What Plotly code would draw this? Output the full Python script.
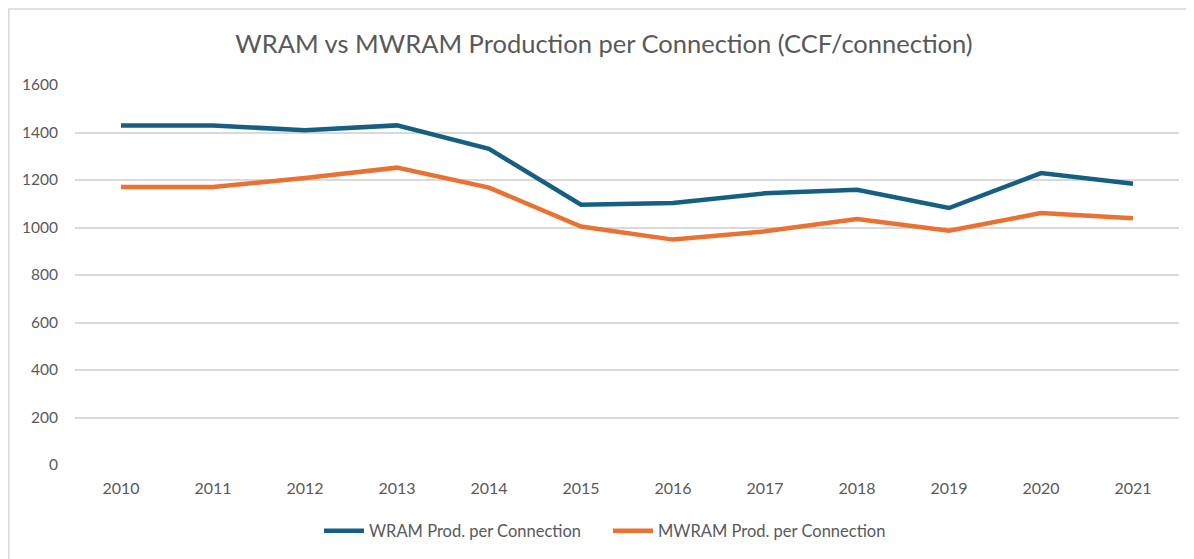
import plotly.graph_objects as go

years = ["2010", "2011", "2012", "2013", "2014", "2015", "2016", "2017", "2018", "2019", "2020", "2021"]
wram = [1429, 1429, 1410, 1430, 1331, 1096, 1103, 1144, 1159, 1082, 1229, 1184]
mwram = [1171, 1171, 1208, 1252, 1168, 1004, 949, 984, 1036, 986, 1061, 1039]
y_ticks = [0, 200, 400, 600, 800, 1000, 1200, 1400, 1600]

FONT = "Lato, 'Open Sans', sans-serif"
GREY = "#595959"

fig = go.Figure()
fig.add_trace(go.Scatter(x=years, y=wram, mode="lines", name="WRAM Prod. per Connection",
                         line=dict(color="#156082", width=4.5)))
fig.add_trace(go.Scatter(x=years, y=mwram, mode="lines", name="MWRAM Prod. per Connection",
                         line=dict(color="#E97132", width=4.5)))

# the page body adds an 8px offset; figure coordinates below are page - 8
OFF = 8
W, H = 1194 - OFF, 559 - OFF
L, R, T, B = 75 - OFF, 1194 - 1179, 85 - OFF, 559 - 466
pw = W - L - R
ph = H - T - B

def px_x(p):
    return (p - OFF - L) / pw

def px_y(p):
    return (H - B - (p - OFF)) / ph

fig.update_layout(
    width=W, height=H,
    margin=dict(l=L, r=R, t=T, b=B),
    paper_bgcolor="white", plot_bgcolor="white",
    font=dict(family=FONT, color=GREY, size=15),
    title=dict(text="WRAM vs MWRAM Production per Connection (CCF/connection)",
               x=(604 - OFF) / W, xanchor="center", y=1 - (44 - OFF) / H, yanchor="middle",
               font=dict(size=25.5, color=GREY, family=FONT)),
    xaxis=dict(type="category", range=[-0.5, 11.5], showgrid=False, showline=False,
               zeroline=False, ticks="", tickfont=dict(size=16, color=GREY),
               ticklabelstandoff=12),
    yaxis=dict(range=[0, 1600], tickvals=y_ticks, showgrid=True, gridcolor="#D9D9D9",
               gridwidth=1.5, zeroline=False, showline=False, ticks="",
               tickfont=dict(size=15.5, color=GREY), ticklabelstandoff=16),
    legend=dict(orientation="h", x=px_x(608), xanchor="center", y=px_y(531), yanchor="middle",
                font=dict(size=16.5, color=GREY), itemwidth=40, tracegroupgap=0,
                entrywidth=234),
    showlegend=True,
    shapes=[dict(type="rect", xref="paper", yref="paper",
                 x0=px_x(8.8), x1=px_x(1210), y0=px_y(580), y1=px_y(8.8),
                 line=dict(color="#D9D9D9", width=1.5), fillcolor="rgba(0,0,0,0)", layer="below")],
)

fig.write_html("out.html")
